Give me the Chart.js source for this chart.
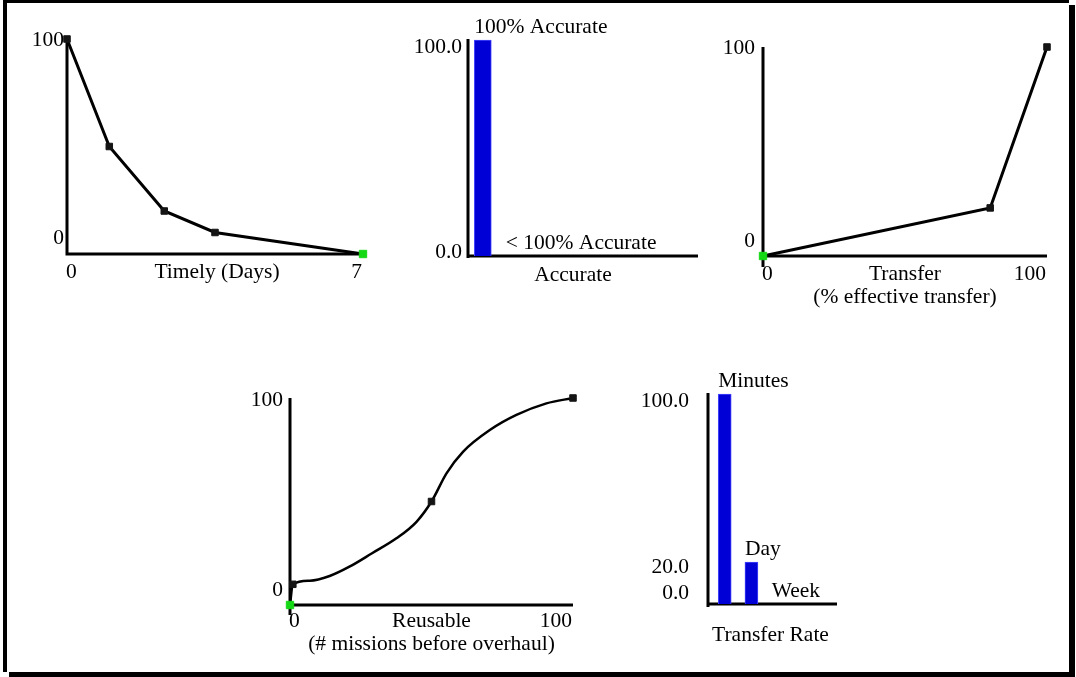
<!DOCTYPE html>
<html>
<head>
<meta charset="utf-8">
<title>Attribute value curves</title>
<script src="https://cdn.jsdelivr.net/npm/chart.js@4.4.0/dist/chart.umd.min.js"></script>
<style>
  html, body { margin: 0; padding: 0; background: #fff; }
  #page { position: relative; width: 1076px; height: 677px; overflow: hidden; }
  #frame {
    position: absolute; left: 3px; top: 0; width: 1066px; height: 672px;
    box-sizing: border-box; background: #fff;
    border-left: 4px solid #000; border-top: 3px solid #000;
    box-shadow: 6px 5px 0 #000;
  }
  canvas { position: absolute; left: 0; top: 0; }
</style>
</head>
<body>
<div id="page">
  <div id="frame"></div>
  <canvas id="timely" width="1076" height="677"></canvas>
  <canvas id="accurate" width="1076" height="677"></canvas>
  <canvas id="transfer" width="1076" height="677"></canvas>
  <canvas id="reusable" width="1076" height="677"></canvas>
  <canvas id="rate" width="1076" height="677"></canvas>
</div>
<script>
// --- data ---

// Timely (Days)
const timelyDays = [0, 1, 2.3, 3.5, 7];
const timelyValue = [100, 50, 20, 10, 0];
const timelyYTicks = [100, 0];
const timelyYLabels = ['100', '0'];
const timelyXLabels = ['0', '7'];
const timelyTitle = ['Timely (Days)'];

// Accurate
const accurateCats = ['100% Accurate', '< 100% Accurate'];
const accurateValues = [100, 0];
const accurateYTicks = [100, 0];
const accurateYLabels = ['100.0', '0.0'];
const accurateTitle = ['Accurate'];

// Transfer (% effective transfer)
const transferPct = [0, 80, 100];
const transferValue = [0, 23, 100];
const transferYTicks = [100, 0];
const transferYLabels = ['100', '0'];
const transferXLabels = ['0', '100'];
const transferTitle = ['Transfer', '(% effective transfer)'];

// Reusable (# missions before overhaul)
const reusableMissions = [0, 1, 7, 14, 21, 29, 37.6, 44.7, 50, 55.3, 61.2, 70.6, 80, 90.6, 100];
const reusableValue = [0, 10, 11.7, 14, 18.5, 25, 32.2, 40.2, 50, 63.6, 74.1, 84.5, 91.8, 97.4, 100];
const reusableMarkX = [0, 1, 50, 100];
const reusableMarkY = [0, 10, 50, 100];
const reusableYTicks = [100, 0];
const reusableYLabels = ['100', '0'];
const reusableXLabels = ['0', '100'];
const reusableTitle = ['Reusable', '(# missions before overhaul)'];

// Transfer Rate
const rateCats = ['Minutes', 'Day', 'Week'];
const rateValues = [100, 20, 0];
const rateYTicks = [100, 20, 0];
const rateYLabels = ['100.0', '20.0', '0.0'];
const rateTitle = ['Transfer Rate'];

// --- drawing ---

const W = 1076, H = 677;
const FONT = '21.5px "Liberation Serif", "Times New Roman", serif';
const INK = '#141414';
const GREEN = '#14d814';
const BAR_FILL = '#0000d6';
const BAR_EDGE = '#4646ff';

// axis lines under the data, all text on top
const axesPlugin = {
  id: 'axes',
  beforeDatasetsDraw(chart, args, o) {
    const { ctx, chartArea: a } = chart;
    ctx.save();
    ctx.strokeStyle = '#000';
    ctx.lineWidth = 3;
    ctx.beginPath();
    ctx.moveTo(a.left, a.top - (o.yUp || 0));
    ctx.lineTo(a.left, a.bottom + (o.yDown || 0));
    ctx.moveTo(a.left - 1.5, a.bottom);
    ctx.lineTo(a.right, a.bottom);
    ctx.stroke();
    ctx.restore();
  },
  afterDraw(chart, args, o) {
    const { ctx, chartArea: a, scales } = chart;
    ctx.save();
    ctx.font = FONT;
    ctx.fillStyle = '#000';
    ctx.textBaseline = 'alphabetic';

    ctx.textAlign = 'right';
    o.yTicks.forEach((v, i) => {
      ctx.fillText(o.yLabels[i], a.left - o.yGap, scales.y.getPixelForValue(v) + o.yShift[i] + 7);
    });

    if (o.xLabels) {
      const base = a.bottom + o.xBase;
      ctx.textAlign = 'left';
      ctx.fillText(o.xLabels[0], scales.x.getPixelForValue(scales.x.min) - 1, base);
      ctx.textAlign = 'right';
      ctx.fillText(o.xLabels[1], scales.x.getPixelForValue(scales.x.max) - 1, base);
    }

    ctx.textAlign = 'center';
    const cx = (a.left + a.right) / 2 + (o.titleDx || 0);
    o.title.forEach((t, i) => ctx.fillText(t, cx, a.bottom + o.titleBase + i * 23));

    if (o.barLabels) {
      ctx.textAlign = 'left';
      chart.getDatasetMeta(0).data.forEach((bar, i) => {
        ctx.fillText(o.barLabels[i], bar.x - bar.width / 2, bar.y - 7);
      });
    }
    ctx.restore();
  }
};
Chart.register(axesPlugin);

const pad = (l, t, r, b) => ({ left: l, top: t, right: W - r, bottom: H - b });
const xy = (xs, ys) => xs.map((x, i) => ({ x, y: ys[i] }));

function options(area, xRange, yRange, axes) {
  return {
    responsive: false,
    animation: false,
    events: [],
    layout: { padding: pad(...area) },
    plugins: { legend: { display: false }, tooltip: { enabled: false }, axes },
    scales: {
      x: { type: 'linear', display: false, offset: false, min: xRange[0], max: xRange[1] },
      y: { display: false, min: yRange[0], max: yRange[1] }
    }
  };
}

function markers(n, greenIdx) {
  return Array.from({ length: n }, (_, i) => i === greenIdx ? GREEN : INK);
}

function markerSizes(n, greenIdx) {
  return Array.from({ length: n }, (_, i) => i === greenIdx ? 5.2 : 4.6);
}

// Timely
new Chart(document.getElementById('timely'), {
  type: 'line',
  data: {
    datasets: [{
      data: xy(timelyDays, timelyValue),
      borderColor: '#000', borderWidth: 3, tension: 0, clip: false,
      pointStyle: 'rect',
      pointRadius: markerSizes(timelyDays.length, timelyDays.length - 1),
      pointBackgroundColor: markers(timelyDays.length, timelyDays.length - 1),
      pointBorderColor: markers(timelyDays.length, timelyDays.length - 1),
      pointBorderWidth: 1
    }]
  },
  options: options([67, 39, 363, 254], [0, 7], [0, 100], {
    yTicks: timelyYTicks, yLabels: timelyYLabels, yGap: 3, yShift: [0, -17],
    xLabels: timelyXLabels, xBase: 24,
    title: timelyTitle, titleBase: 24, titleDx: 2
  })
});

// Accurate
new Chart(document.getElementById('accurate'), {
  type: 'bar',
  data: {
    datasets: [{
      data: xy(accurateCats.map((c, i) => i + 1), accurateValues),
      backgroundColor: BAR_FILL, borderColor: BAR_EDGE, borderWidth: 1,
      barThickness: 17, clip: false
    }]
  },
  options: options([468, 40, 698, 256], [0.53, 7.83], [0, 100], {
    yTicks: accurateYTicks, yLabels: accurateYLabels, yGap: 6, yShift: [6, -5],
    yUp: 1, yDown: 2,
    title: accurateTitle, titleBase: 25, titleDx: -10,
    barLabels: accurateCats
  })
});

// Transfer
new Chart(document.getElementById('transfer'), {
  type: 'line',
  data: {
    datasets: [{
      data: xy(transferPct, transferValue),
      borderColor: '#000', borderWidth: 3, tension: 0, clip: false,
      pointStyle: 'rect',
      pointRadius: markerSizes(transferPct.length, 0),
      pointBackgroundColor: markers(transferPct.length, 0),
      pointBorderColor: markers(transferPct.length, 0),
      pointBorderWidth: 1
    }]
  },
  options: options([763, 47, 1047, 256], [0, 100], [0, 100], {
    yTicks: transferYTicks, yLabels: transferYLabels, yGap: 8, yShift: [0, -16.5],
    yDown: 11,
    xLabels: transferXLabels, xBase: 24,
    title: transferTitle, titleBase: 24
  })
});

// Reusable
new Chart(document.getElementById('reusable'), {
  type: 'line',
  data: {
    datasets: [{
      data: xy(reusableMarkX, reusableMarkY),
      showLine: false, clip: false,
      pointStyle: 'rect',
      pointRadius: markerSizes(reusableMarkX.length, 0),
      pointBackgroundColor: markers(reusableMarkX.length, 0),
      pointBorderColor: markers(reusableMarkX.length, 0),
      pointBorderWidth: 1
    }, {
      data: xy(reusableMissions, reusableValue),
      borderColor: '#000', borderWidth: 2.5, pointRadius: 0, clip: false,
      cubicInterpolationMode: 'monotone'
    }]
  },
  options: options([290, 398, 573, 605], [0, 100], [0, 100], {
    yTicks: reusableYTicks, yLabels: reusableYLabels, yGap: 7, yShift: [1, -16],
    yDown: 10,
    xLabels: reusableXLabels, xBase: 22,
    title: reusableTitle, titleBase: 22
  })
});

// Transfer Rate
new Chart(document.getElementById('rate'), {
  type: 'bar',
  data: {
    datasets: [{
      data: xy(rateCats.map((c, i) => i + 1), rateValues),
      backgroundColor: BAR_FILL, borderColor: BAR_EDGE, borderWidth: 1,
      barThickness: 13, clip: false
    }]
  },
  options: options([708, 394, 837, 604], [0.375, 5.2], [0, 100], {
    yTicks: rateYTicks, yLabels: rateYLabels, yGap: 19, yShift: [6, 4, -12.5],
    yUp: 1, yDown: 3,
    title: rateTitle, titleBase: 37, titleDx: -2,
    barLabels: rateCats
  })
});
</script>
</body>
</html>
